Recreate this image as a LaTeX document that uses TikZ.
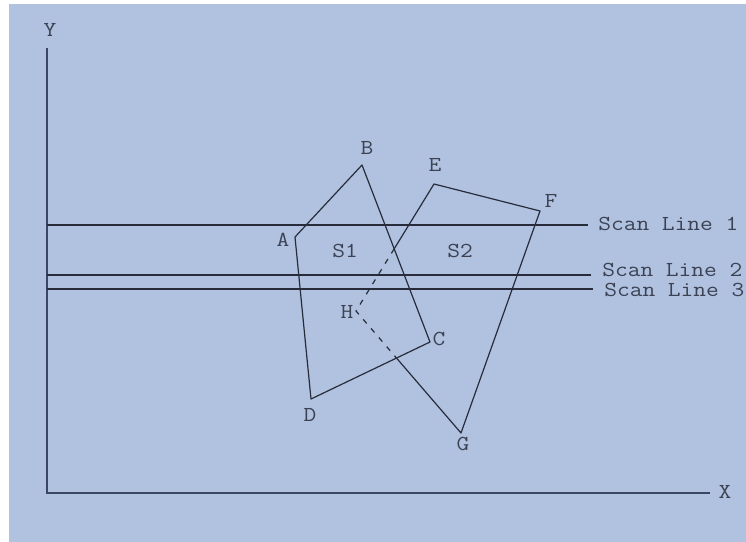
\documentclass[tikz,border=0pt]{standalone}
\usepackage{fontspec}
\usepackage{graphicx}
\definecolor{bgblue}{RGB}{176,194,224}
\definecolor{axiscol}{RGB}{58,70,98}
\definecolor{linecol}{RGB}{40,44,58}
\definecolor{txtcol}{RGB}{60,66,84}
\newcommand{\wtxt}[1]{\scalebox{1.16}[1]{#1}}
\tikzset{
  axisline/.style={draw=axiscol, line width=1.5pt},
  scanline/.style={draw=linecol, line width=1.1pt},
  edge/.style={draw=linecol, line width=0.9pt, line join=round},
  hidden/.style={draw=linecol, line width=0.9pt, dash pattern=on 4pt off 5pt},
  lbl/.style={text=txtcol, font=\ttfamily\fontsize{16}{16}\selectfont, inner sep=0pt},
}
\begin{document}
\begin{tikzpicture}[x=0.75pt, y=-0.75pt]
\useasboundingbox (0,0) rectangle (746,542);
\fill[white] (0,0) rectangle (746,542);
\fill[bgblue] (9,4) rectangle (746,542);
% axes
\coordinate (ytop) at (47,48);
\coordinate (orig) at (47,493);
\coordinate (xend) at (710,493);
\draw[axisline] (ytop) -- (orig) -- (xend);
\node[lbl] (ylab) at (50,30) {\wtxt{Y}};
\node[lbl] (xlab) at (725,492) {\wtxt{X}};
% scan lines
\coordinate (s1a) at (47,225); \coordinate (s1b) at (588,225);
\coordinate (s2a) at (47,275); \coordinate (s2b) at (591,275);
\coordinate (s3a) at (47,289); \coordinate (s3b) at (593,289);
\draw[scanline] (s1a) -- (s1b);
\draw[scanline] (s2a) -- (s2b);
\draw[scanline] (s3a) -- (s3b);
\node[lbl, anchor=west] (sl1) at (598,224) {\wtxt{Scan Line 1}};
\node[lbl, anchor=west] (sl2) at (602,270) {\wtxt{Scan Line 2}};
\node[lbl, anchor=west] (sl3) at (604,290) {\wtxt{Scan Line 3}};
% polygon S1
\coordinate (A) at (295,237);
\coordinate (B) at (362,165);
\coordinate (C) at (430,342);
\coordinate (D) at (311,399);
\draw[edge] (A) -- (B) -- (C) -- (D) -- cycle;
% polygon S2
\coordinate (E) at (434,184);
\coordinate (F) at (540,211);
\coordinate (G) at (461,433);
\coordinate (H) at (356,311);
\coordinate (P) at (intersection of B--C and E--H);
\coordinate (Q) at (intersection of D--C and H--G);
\draw[edge] (P) -- (E) -- (F) -- (G) -- (Q);
\draw[hidden] (P) -- (H) -- (Q);
% labels
\node[lbl] (la) at (283,240) {\wtxt{A}};
\node[lbl] (lb) at (367,148) {\wtxt{B}};
\node[lbl] (lc) at (439,339) {\wtxt{C}};
\node[lbl] (ld) at (310,415) {\wtxt{D}};
\node[lbl] (le) at (435,165) {\wtxt{E}};
\node[lbl] (lf) at (551,201) {\wtxt{F}};
\node[lbl] (lg) at (463,444) {\wtxt{G}};
\node[lbl] (lh) at (347,312) {\wtxt{H}};
\node[lbl] (ls1) at (345,251) {\wtxt{S1}};
\node[lbl] (ls2) at (460,251) {\wtxt{S2}};
\end{tikzpicture}
\end{document}
